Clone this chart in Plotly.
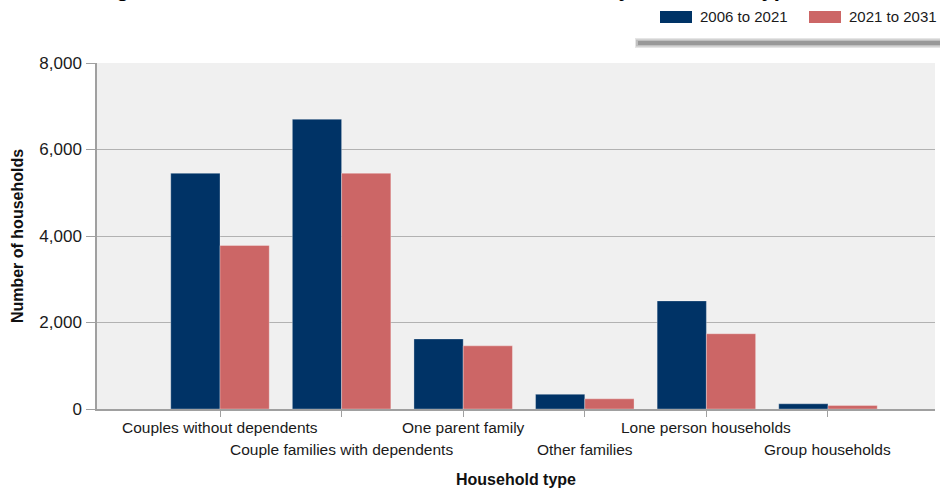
import plotly.graph_objects as go

# Household types and change in number of households per period
categories = [
    "Couples without dependents",
    "Couple families with dependents",
    "One parent family",
    "Other families",
    "Lone person households",
    "Group households",
]
change_2006_2021 = [5450, 6700, 1620, 340, 2500, 120]
change_2021_2031 = [3780, 5450, 1460, 235, 1740, 80]
series_names = ["2006 to 2021", "2021 to 2031"]
y_ticks = [0, 2000, 4000, 6000, 8000]
y_tick_labels = ["0", "2,000", "4,000", "6,000", "8,000"]

BLUE = "#003366"
RED = "#CC6666"
FONT = "Liberation Sans, Arial, sans-serif"

W, H = 940, 489
M_L, M_R, M_T, M_B = 97, 5, 63, 80
PLOT_W = W - M_L - M_R
PLOT_H = H - M_T - M_B


def px_x(px):
    return (px - M_L) / PLOT_W


def px_y(py):
    return 1 + (M_T - py) / PLOT_H


fig = go.Figure()
fig.add_trace(go.Bar(
    x=categories, y=change_2006_2021, name=series_names[0],
    marker=dict(color=BLUE, line=dict(color="rgba(255,255,255,0.3)", width=1)),
))
fig.add_trace(go.Bar(
    x=categories, y=change_2021_2031, name=series_names[1],
    marker=dict(color=RED, line=dict(color="rgba(255,255,255,0.3)", width=1)),
))

# Staggered category labels below the axis
annotations = []
for i, cat in enumerate(categories):
    annotations.append(dict(
        x=cat, xref="x", y=0, yref="paper", yanchor="top", xanchor="center",
        yshift=-8 - (21.5 if i % 2 else 0), showarrow=False, text=cat,
        font=dict(family=FONT, size=15.5, color="#1a1a1a"),
    ))

# Chart title (sits at the very top of the page)
annotations.append(dict(
    x=px_x(430), xref="paper", y=px_y(3), yref="paper", xanchor="center",
    yanchor="bottom", showarrow=False,
    text="<b>Change in the number of households, 2006 to 2031, by household type</b>",
    font=dict(family=FONT, size=22, color="#000000"),
))

# Legend entries drawn as swatches + labels
shapes = []
legend_items = [(660, 698, BLUE, series_names[0]), (809, 847, RED, series_names[1])]
for sx, tx, col, label in legend_items:
    shapes.append(dict(type="rect", xref="paper", yref="paper",
                       x0=px_x(sx), x1=px_x(sx + 32), y0=px_y(23), y1=px_y(11),
                       fillcolor=col, line=dict(width=0)))
    annotations.append(dict(
        x=px_x(tx), xref="paper", y=px_y(17), yref="paper", xanchor="left",
        yanchor="middle", showarrow=False, text=label,
        font=dict(family=FONT, size=15, color="#1a1a1a"),
    ))

# Soft drop shadow under the legend box
for x0, y0, y1, a in [(635, 38, 48, 0.10), (636, 39.5, 46.5, 0.16), (638, 41, 45, 0.2)]:
    shapes.append(dict(type="rect", xref="paper", yref="paper",
                       x0=px_x(x0), x1=px_x(945), y0=px_y(y1), y1=px_y(y0),
                       fillcolor=f"rgba(0,0,0,{a})", line=dict(width=0)))

fig.update_layout(
    width=W, height=H,
    margin=dict(l=M_L, r=M_R, t=M_T, b=M_B),
    paper_bgcolor="white",
    plot_bgcolor="#F0F0F0",
    barmode="group",
    bargap=0.19,
    bargroupgap=0,
    showlegend=False,
    font=dict(family=FONT, color="#1a1a1a"),
    annotations=annotations,
    shapes=shapes,
    xaxis=dict(
        type="category",
        range=[-1.0115, 5.88],
        showticklabels=False,
        ticks="outside", ticklen=6, tickcolor="#A0A0A0", tickwidth=1,
        showline=True, linecolor="#A0A0A0", linewidth=1.5,
        showgrid=False, zeroline=False,
        title=dict(text="<b>Household type</b>", standoff=58,
                   font=dict(family=FONT, size=16, color="#111111")),
    ),
    yaxis=dict(
        range=[0, 8000],
        tickvals=y_ticks, ticktext=y_tick_labels,
        ticks="outside", ticklen=9, tickcolor="#A0A0A0", tickwidth=1,
        ticklabelstandoff=1,
        tickfont=dict(family=FONT, size=17, color="#1a1a1a"),
        showline=True, linecolor="#A0A0A0", linewidth=1.5,
        showgrid=True, gridcolor="rgba(0,0,0,0.26)", gridwidth=1.2,
        layer="above traces",
        zeroline=False,
        title=dict(text="<b>Number of households</b>", standoff=12,
                   font=dict(family=FONT, size=16, color="#111111")),
    ),
)

fig.write_html("out.html")
